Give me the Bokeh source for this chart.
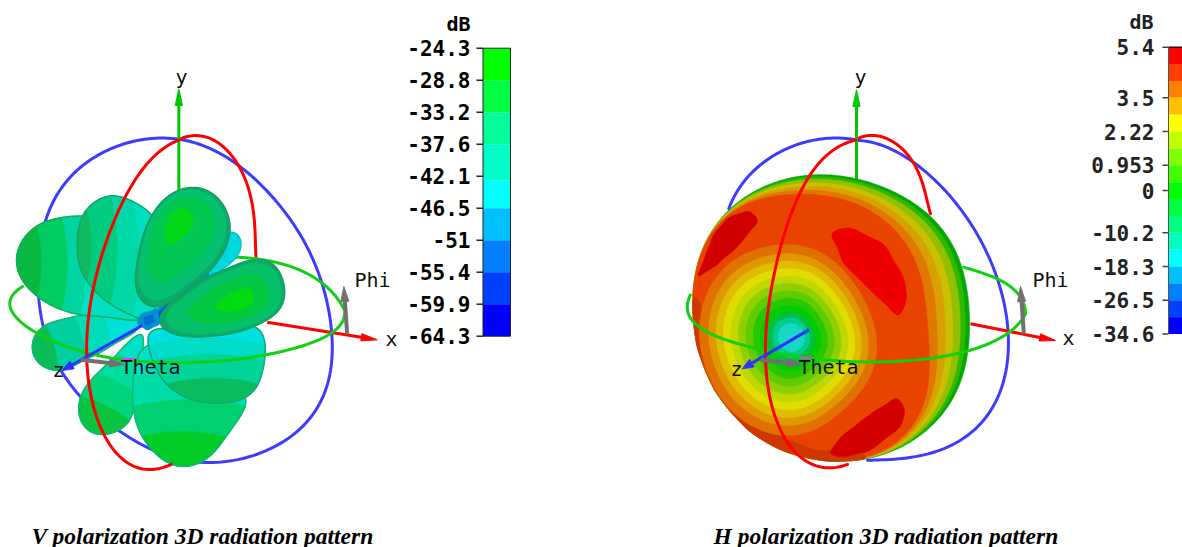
import numpy as np
from bokeh.plotting import figure
from bokeh.embed import file_html
from bokeh.resources import INLINE
from bokeh.core.properties import value

# --- colour scales ---------------------------------------------------------
v_ticks = ["-24.3", "-28.8", "-33.2", "-37.6", "-42.1", "-46.5", "-51", "-55.4", "-59.9", "-64.3"]
v_band_colors = ["#00ff00", "#00ff40", "#00ff98", "#00ffc8", "#00ffff", "#00bfff", "#0080ff", "#0040ff", "#0000ff"]
h_ticks = ["5.4", "3.5", "2.22", "0.953", "0", "-10.2", "-18.3", "-26.5", "-34.6"]
h_tick_band = [0, 3, 5, 7, 8.5, 11, 13, 15, 17]
h_band_colors = ["#ff0000", "#ff4000", "#ff8000", "#ffbf00", "#ffff00", "#bfff00", "#80ff00", "#40ff00", "#00ff00",
                 "#00ff40", "#00ff80", "#00ffbf", "#00ffff", "#00bfff", "#0080ff", "#0040ff", "#0000ff"]

# --- outlines, scene units (3 per screen pixel) -----------------------------
blue_ring = [(535,238),(620,262),(700,295),(790,380),(870,480),(925,570),(960,640),(985,730),(990,820),(990,920),(975,1010),
             (935,1075),(880,1120),(810,1165),(740,1185),(670,1205),(610,1210),(510,1195),(420,1150),(330,1090),(240,1010),
             (190,950),(150,880),(130,810),(120,740),(112,620),(130,470),(165,410),(200,360),(250,315),(300,280),(360,250),(420,235),(480,232)]
red_back = [(535,238),(590,225),(650,245),(700,290),(740,380),(765,520),(768,620)]
red_front = [(535,238),(450,300),(380,400),(310,560),(270,720),(262,880),(280,1040),(330,1160),(400,1220),(450,1228),(510,1210)]
green_back = [(700,590),(800,600),(900,630),(980,680),(1030,745)]
green_front = [(1030,745),(1035,770),(1020,795),(990,815),(900,860),(780,885),(620,905),(480,905),(380,900),(265,880),(170,845),
               (100,810),(55,780),(30,755),(25,735),(38,705),(65,680)]
# lobes: outline, focus, stripe axis (None = nested all round), bands (fraction, colour)
lobes_v = [
    dict(o=[(680,510),(725,530),(710,590),(600,680),(470,790),(440,760),(560,640)], f=(470,780), u=None, rim="#00c8d0",
         b=[(1,"#00d8e0"),(.62,"#0090d8"),(.4,"#0050d0")]),
    dict(o=[(233,1050),(245,990),(285,945),(340,890),(400,830),(430,815),(420,930),(400,1040),(385,1090),(340,1115),(290,1125),(250,1100)],
         f=(250,1125), u=(.45,-.9), rim="#10b870",
         b=[(1,"#00e0c8"),(.75,"#00dca0"),(.5,"#00d478"),(.25,"#08c440")]),
    dict(o=[(395,1020),(400,930),(430,850),(500,860),(600,930),(745,1010),(720,1065),(680,1125),(630,1190),(560,1220),(490,1205),(430,1140),(405,1080)],
         f=(540,1222), u=(0,-1), rim="#10b878",
         b=[(1,"#00e0c8"),(.75,"#00dca8"),(.5,"#00d070"),(.25,"#00cc28")]),
    dict(o=[(440,810),(560,800),(680,790),(780,800),(795,860),(785,950),(750,1005),(690,1025),(620,1030),(540,1005),(480,955),(450,880)],
         f=(620,1032), u=(0,-1), rim="#14a870",
         b=[(1,"#00e0e0"),(.75,"#00dcc8"),(.55,"#00d498"),(.25,"#0abc60")]),
    dict(o=[(93,860),(105,820),(140,790),(190,775),(260,762),(340,760),(400,765),(425,795),(370,835),(300,875),(240,905),(190,930),(140,925),(105,900)],
         f=(93,880), u=(1,-.25), rim="#10b878",
         b=[(1,"#00e0d8"),(.7,"#00dcb8"),(.45,"#00d0a0"),(.18,"#0abc58")]),
    dict(o=[(48,620),(55,560),(85,510),(130,485),(190,470),(250,465),(300,480),(350,540),(400,650),(440,780),(380,775),(300,770),(230,760),
            (170,745),(120,715),(80,680),(58,650)], f=(48,620), u=(1,0), rim="#10b058",
         b=[(1,"#00e0c0"),(.5,"#00d4a0"),(.36,"#00cc60"),(.16,"#08b840")]),
    dict(o=[(228,540),(240,480),(270,430),(320,405),(370,410),(420,435),(470,480),(470,600),(460,780),(410,770),(350,745),(290,700),(250,650),(232,590)],
         f=(228,540), u=(1,0), rim="#14a868",
         b=[(1,"#00e0c0"),(.7,"#00d8a8"),(.42,"#00cc80"),(.12,"#10b860")]),
    dict(o=[(405,640),(415,570),(440,490),(475,430),(520,395),(575,378),(625,390),(665,425),(688,480),(688,530),(665,585),(620,640),
            (560,690),(500,730),(460,742),(425,725),(408,690)], f=(530,470), u=None, rim="#14a060",
         b=[(1,"#10a868"),(.93,"#04c070"),(.72,"#00c850"),(.3,"#00d818")]),
    dict(o=[(470,775),(510,730),(570,680),(640,640),(710,610),(780,595),(820,610),(845,650),(855,700),(840,745),(800,780),(730,810),
            (660,825),(590,830),(530,825),(490,805)], f=(720,720), u=None, rim="#14a060",
         b=[(1,"#10a868"),(.92,"#04c068"),(.64,"#00c840"),(.3,"#00dc10")]),
]
hub_v = dict(o=[(420,760),(470,745),(480,790),(440,810),(410,790)], f=(445,780), b=[(1,"#0090d0"),(.5,"#0070d0")])

sph_blue_back = [(175,445),(250,330),(350,265),(450,235),(555,238)]
sph_blue_right = [(555,238),(640,262),(720,295),(790,355),(850,420),(910,505),(960,600),(995,710),(1010,820),(1010,920),(990,1000),
                  (950,1065),(900,1120),(830,1160),(760,1180),(690,1195),(590,1200)]
sph_red_back = [(555,238),(610,225),(670,245),(730,310),(770,420),(780,460)]
sph_red_front = [(555,238),(440,320),(370,430),(320,600),(290,800),(285,900),(310,1060),(370,1170),(440,1220),(530,1210)]
sph_green_back = [(880,620),(990,660),(1050,710),(1065,760)]
sph_green_front = [(1065,760),(1015,815),(900,870),(700,900),(550,905),(400,890),(280,870),(150,830),(70,790),(50,740),(60,705)]
blob = [(175,445),(260,385),(400,340),(550,350),(680,395),(780,465),(850,550),(890,680),(900,800),(880,950),(820,1060),
        (720,1150),(600,1195),(470,1205),(330,1170),(230,1110),(130,990),(75,850),(65,700),(85,590),(130,500)]
blob_rim_depth = [12,30,60,70,90,110,125,130,130,110,70,25,6,0,0,0,0,0,0,0,4]
blob_centre = (480,770)
blob_bands = [(0,"#00a800"),(.1,"#30b800"),(.22,"#90c000"),(.4,"#c8c000"),(.58,"#d8a000"),(.78,"#e07800"),(1,"#e84400")]
blob_shade = ([(65,700),(75,850),(130,990),(230,1110),(330,1170),(470,1205),(600,1195),(560,1170),(440,1170),(330,1130),(250,1070),
               (150,960),(100,840),(90,720)], "#cc3800")
hot_patches = [
    ([(480,515),(540,500),(640,550),(700,650),(710,715),(685,770),(600,690),(520,610)], "#ee0000"),
    ([(80,650),(130,520),(175,470),(235,450),(265,480),(200,560),(130,620)], "#d00000"),
    ([(475,1180),(510,1130),(600,1060),(680,1010),(705,1050),(690,1100),(600,1170),(520,1190)], "#d40000"),
]
rings = [(350,550),(450,570),(530,640),(590,730),(620,830),(610,930),(560,1010),(480,1080),(400,1125),(300,1120),(210,1080),(140,1000),
         (95,900),(85,800),(105,700),(160,620),(250,565)]
ring_focus = (365,830)
ring_bands = [(1,"#e07000"),(.9,"#e09800"),(.82,"#e0bc00"),(.74,"#e0dc00"),(.66,"#c0d800"),(.58,"#90d000"),(.5,"#60cc00"),
              (.42,"#28c800"),(.34,"#00cc00"),(.27,"#00c040"),(.21,"#00cc90"),(.15,"#18d8c0")]

W, H = 1182, 547
p = figure(width=W, height=H, x_range=(0, W), y_range=(H, 0), output_backend="svg", toolbar_location=None,
           min_border=0, outline_line_color=None, background_fill_color="white", border_fill_color="white")
p.xaxis.visible = False
p.yaxis.visible = False
p.grid.visible = False


def resample(P, N):
    d = np.r_[0, np.cumsum(np.linalg.norm(np.diff(P, axis=0), axis=1))]
    t = np.linspace(0, d[-1], N)
    return np.c_[np.interp(t, d, P[:, 0]), np.interp(t, d, P[:, 1])]


def closed_curve(pts, K=6, N=240):
    P = np.array(pts, float)
    P = resample(np.vstack([P, P[:1]]), N + 1)[:-1]
    z = P[:, 0] + 1j * P[:, 1]
    F = np.fft.fft(z)
    m = np.abs(np.fft.fftfreq(N, 1 / N)) <= K
    z = np.fft.ifft(F * m)
    return np.c_[z.real, z.imag]


def open_curve(pts, deg=5, N=120):
    P = np.array(pts, float)
    deg = min(deg, len(P) - 1)
    d = np.r_[0, np.cumsum(np.linalg.norm(np.diff(P, axis=0), axis=1))]
    d /= d[-1]
    t = np.linspace(0, 1, N)
    return np.c_[np.polyval(np.polyfit(d, P[:, 0], deg), t), np.polyval(np.polyfit(d, P[:, 1], deg), t)]


def to_px(a, ox, oy):
    return a[:, 0] / 3 + ox, a[:, 1] / 3 + oy


def stroke(pts, color, ox, oy, w=3.0, deg=5):
    x, y = to_px(open_curve(pts, deg), ox, oy)
    p.line(x, y, line_color=color, line_width=w, line_cap="round", line_join="round")


def fill(q, col, ox, oy, lw=0.5, lc=None):
    x, y = to_px(q, ox, oy)
    p.patch(x, y, fill_color=col, line_color=lc or col, line_width=lw)


def clip_stripe(s, f, e, frac, bow=.12):
    g = (s - f) @ e
    t = g.min() + frac * (g.max() - g.min())
    mask = g < t
    if mask.all():
        return s
    i = np.argmax(~mask[:-1] & mask[1:]) + 1 if (~mask[:-1] & mask[1:]).any() else 0
    s2, m2 = np.roll(s, -i, axis=0), np.roll(mask, -i)
    n = np.argmin(m2) if not m2.all() else len(s2)
    kept = s2[:n]
    a, b = kept[-1], kept[0]
    c = (a + b) / 2 + e * bow * np.linalg.norm(a - b)
    tt = np.linspace(0, 1, 10)[:, None]
    chord = (1 - tt) ** 2 * a + 2 * tt * (1 - tt) * c + tt ** 2 * b
    return np.vstack([kept, chord])


def lobe_draw(d, ox, oy):
    s = closed_curve(d["o"])
    f = np.array(d["f"], float)
    if d.get("u") is None:
        for frac, col in d["b"]:
            fill(f + frac * (s - f), col, ox, oy)
    else:
        e = np.array(d["u"], float) / np.linalg.norm(d["u"])
        for frac, col in d["b"]:
            fill(clip_stripe(s, f, e, frac), col, ox, oy)
    if d.get("rim"):
        x, y = to_px(np.vstack([s, s[:1]]), ox, oy)
        p.line(x, y, line_color=d["rim"], line_width=1.5)


def arrow(a, b, color, ox, oy, w=3.0, head=48, half=11):
    a, b = np.array(a, float), np.array(b, float)
    u = (b - a) / np.linalg.norm(b - a)
    n = np.array([-u[1], u[0]])
    base = b - u * head
    p.line(*to_px(np.array([a, base]), ox, oy), line_color=color, line_width=w)
    p.patch(*to_px(np.array([b, base + n * half, base - n * half]), ox, oy), fill_color=color, line_color=color)


def label(x, y, txt, size=20, color="#111111", bold=False, align="center"):
    p.text([x], [y], text=[txt], text_font=value("DejaVu Sans Mono"), text_font_size=f"{size}px",
           text_font_style="bold" if bold else "normal", text_color=color, text_align=align, text_baseline="middle")


RED, GREEN, BLUE, GREY = "#ff0000", "#10d010", "#3c3cff", "#707070"
PINK = "#e040e0"

# --- left scene -------------------------------------------------------------
ox, oy = 0, 60
q = closed_curve(blue_ring, K=5)
x, y = to_px(np.vstack([q, q[:1]]), ox, oy)
p.line(x, y, line_color=BLUE, line_width=3)
stroke(red_back, RED, ox, oy, deg=4)
stroke(green_back, GREEN, ox, oy, deg=3)
arrow((535, 390), (535, 85), "#00c800", ox, oy, head=50)
arrow((800, 785), (1130, 838), RED, ox, oy)
for lobe in lobes_v:
    lobe_draw(lobe, ox, oy)
lobe_draw(hub_v, ox, oy)
stroke(green_front, GREEN, ox, oy, deg=7)
stroke(red_front, RED, ox, oy)
arrow((425, 795), (185, 930), "#3030ff", ox, oy, head=34, half=13)
arrow((1040, 820), (1030, 678), GREY, ox, oy, w=4, head=45, half=12)
arrow((240, 898), (372, 912), GREY, ox, oy, w=4, head=45, half=12)
label(181, 76, "y")
label(391, 338, "x")
label(58, 369, "z")
label(372, 279, "Phi")
label(150, 366, "Theta")
p.line([121, 134], [358.5, 358.5], line_color=PINK, line_width=2)

# --- right scene ------------------------------------------------------------
ox, oy = 670, 60
stroke(sph_blue_back, BLUE, ox, oy, deg=3)
stroke(sph_blue_right, BLUE, ox, oy, deg=6)
stroke(sph_red_back, RED, ox, oy, deg=4)
stroke(sph_green_back, GREEN, ox, oy, deg=3)
arrow((558, 360), (558, 88), "#00c800", ox, oy, head=50)
arrow((900, 790), (1155, 840), RED, ox, oy)
B = np.array(blob, float)
C = np.array(blob_centre, float)
un = (C - B) / np.linalg.norm(C - B, axis=1)[:, None]
for frac, col in blob_bands:
    fill(closed_curve(B + un * (np.array(blob_rim_depth)[:, None] * frac), K=7), col, ox, oy)
fill(closed_curve(blob_shade[0], K=12), blob_shade[1], ox, oy)
lobe_draw(dict(o=rings, f=ring_focus, b=ring_bands), ox, oy)
for pts, col in hot_patches:
    fill(closed_curve(pts, K=9), col, ox, oy)
stroke(sph_green_front, GREEN, ox, oy, deg=7)
stroke(sph_red_front, RED, ox, oy)
arrow((415, 808), (215, 925), "#3030ff", ox, oy, head=34, half=13)
arrow((1060, 820), (1050, 678), GREY, ox, oy, w=4, head=45, half=12)
arrow((270, 898), (395, 912), GREY, ox, oy, w=4, head=45, half=12)
label(860, 76, "y")
label(1068, 337, "x")
label(736, 368, "z")
label(1050, 279, "Phi")
label(828, 366, "Theta")
p.line([799, 812], [357.5, 357.5], line_color=PINK, line_width=2)

# --- colour bars ------------------------------------------------------------
TOP_V, STEP_V = 47.7, 32.0
v_edges = [TOP_V + STEP_V * i for i in range(len(v_ticks))]
v_color_edges = list(v_edges)
v_color_edges[4] = 180.0
for i, col in enumerate(v_band_colors):
    p.quad(left=482.5, right=510, top=v_color_edges[i], bottom=v_color_edges[i + 1], fill_color=col, line_color=None)
p.quad(left=482.5, right=510, top=v_edges[0], bottom=v_edges[-1], fill_color=None, line_color="#222222", line_width=1)
for yy, t in zip(v_edges, v_ticks):
    p.line([476, 482.5], [yy, yy], line_color="#222222", line_width=1.5)
    label(470, yy, t, size=21, bold=True, align="right", color="#000000")
label(470, 23, "dB", size=20, bold=True, align="right", color="#000000")

TOP_H, STEP_H = 46.7, 16.87
for i, col in enumerate(h_band_colors):
    p.quad(left=1168, right=1183, top=TOP_H + STEP_H * i, bottom=TOP_H + STEP_H * (i + 1), fill_color=col, line_color=None)
p.line([1168, 1183], [TOP_H, TOP_H], line_color="#400000", line_width=1.5)
p.line([1168, 1168], [TOP_H, TOP_H + STEP_H * 17], line_color="#555555", line_width=1)
for k, t in zip(h_tick_band, h_ticks):
    yy = TOP_H + STEP_H * k
    p.line([1162, 1168], [yy, yy], line_color="#444444", line_width=1.5)
    label(1154, yy, t, size=21, bold=True, align="right", color="#222222")
label(1153, 21, "dB", size=20, bold=True, align="right", color="#222222")

# --- captions ---------------------------------------------------------------
for xx, t in [(31, "V polarization 3D radiation pattern"), (713, "H polarization 3D radiation pattern")]:
    p.text([xx], [535], text=[t], text_font=value("Liberation Serif"), text_font_size="23.5px", text_font_style="bold italic",
           text_color="#000000", text_align="left", text_baseline="middle")

open("out.html", "w").write(file_html(p, INLINE))
